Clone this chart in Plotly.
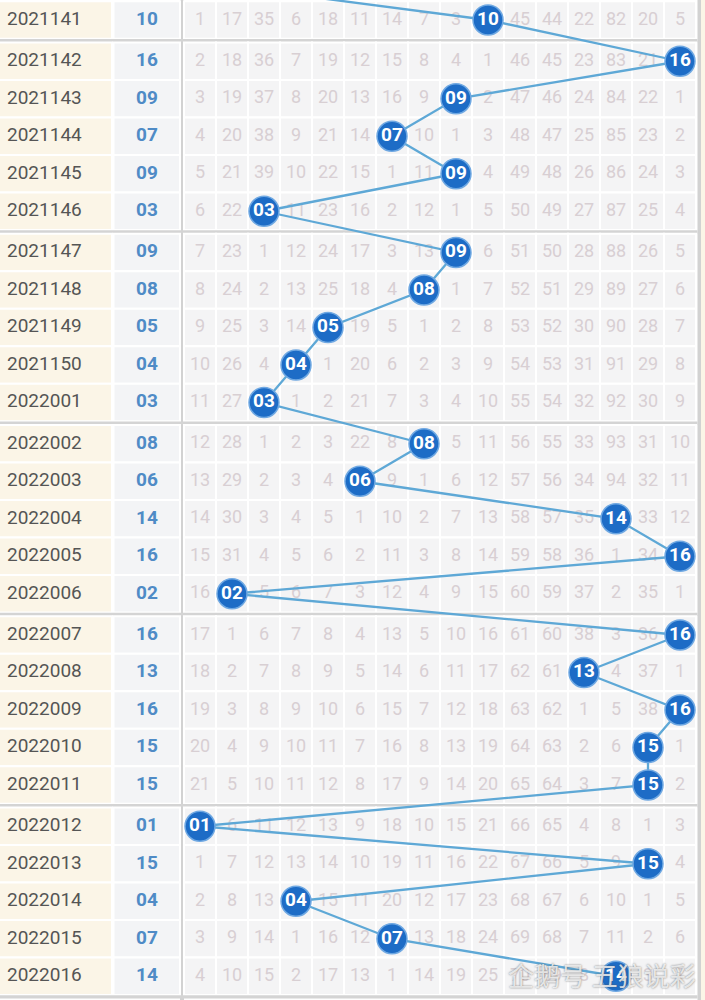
import plotly.graph_objects as go

# ---------------- data ----------------
periods = ["2021141", "2021142", "2021143", "2021144", "2021145", "2021146",
           "2021147", "2021148", "2021149", "2021150", "2022001",
           "2022002", "2022003", "2022004", "2022005", "2022006",
           "2022007", "2022008", "2022009", "2022010", "2022011",
           "2022012", "2022013", "2022014", "2022015", "2022016"]

wins = [10, 16, 9, 7, 9, 3, 9, 8, 5, 4, 3, 8, 6, 14, 16, 2, 16, 13, 16, 15, 15, 1, 15, 4, 7, 14]

prev_win = 1  # winning number of 2021140 (row just above the visible area)

# omission values per row for numbers 01..16 (0 = drawn in that period)
miss = [
    [1, 17, 35, 6, 18, 11, 14, 7, 3, 0, 45, 44, 22, 82, 20, 5],
    [2, 18, 36, 7, 19, 12, 15, 8, 4, 1, 46, 45, 23, 83, 21, 0],
    [3, 19, 37, 8, 20, 13, 16, 9, 0, 2, 47, 46, 24, 84, 22, 1],
    [4, 20, 38, 9, 21, 14, 0, 10, 1, 3, 48, 47, 25, 85, 23, 2],
    [5, 21, 39, 10, 22, 15, 1, 11, 0, 4, 49, 48, 26, 86, 24, 3],
    [6, 22, 0, 11, 23, 16, 2, 12, 1, 5, 50, 49, 27, 87, 25, 4],
    [7, 23, 1, 12, 24, 17, 3, 13, 0, 6, 51, 50, 28, 88, 26, 5],
    [8, 24, 2, 13, 25, 18, 4, 0, 1, 7, 52, 51, 29, 89, 27, 6],
    [9, 25, 3, 14, 0, 19, 5, 1, 2, 8, 53, 52, 30, 90, 28, 7],
    [10, 26, 4, 0, 1, 20, 6, 2, 3, 9, 54, 53, 31, 91, 29, 8],
    [11, 27, 0, 1, 2, 21, 7, 3, 4, 10, 55, 54, 32, 92, 30, 9],
    [12, 28, 1, 2, 3, 22, 8, 0, 5, 11, 56, 55, 33, 93, 31, 10],
    [13, 29, 2, 3, 4, 0, 9, 1, 6, 12, 57, 56, 34, 94, 32, 11],
    [14, 30, 3, 4, 5, 1, 10, 2, 7, 13, 58, 57, 35, 0, 33, 12],
    [15, 31, 4, 5, 6, 2, 11, 3, 8, 14, 59, 58, 36, 1, 34, 0],
    [16, 0, 5, 6, 7, 3, 12, 4, 9, 15, 60, 59, 37, 2, 35, 1],
    [17, 1, 6, 7, 8, 4, 13, 5, 10, 16, 61, 60, 38, 3, 36, 0],
    [18, 2, 7, 8, 9, 5, 14, 6, 11, 17, 62, 61, 0, 4, 37, 1],
    [19, 3, 8, 9, 10, 6, 15, 7, 12, 18, 63, 62, 1, 5, 38, 0],
    [20, 4, 9, 10, 11, 7, 16, 8, 13, 19, 64, 63, 2, 6, 0, 1],
    [21, 5, 10, 11, 12, 8, 17, 9, 14, 20, 65, 64, 3, 7, 0, 2],
    [0, 6, 11, 12, 13, 9, 18, 10, 15, 21, 66, 65, 4, 8, 1, 3],
    [1, 7, 12, 13, 14, 10, 19, 11, 16, 22, 67, 66, 5, 9, 0, 4],
    [2, 8, 13, 0, 15, 11, 20, 12, 17, 23, 68, 67, 6, 10, 1, 5],
    [3, 9, 14, 1, 16, 12, 0, 13, 18, 24, 69, 68, 7, 11, 2, 6],
    [4, 10, 15, 2, 17, 13, 1, 14, 19, 25, 70, 69, 8, 0, 3, 7],
]

numbers = list(range(1, 17))
watermark = "企鹅号 五狼说彩"

# ---------------- layout helpers ----------------
W, H = 705, 1000
PX_COL = 32.0      # px per number column
PX_ROW = 37.5      # px per row
GAP = 0.1          # extra gap between groups of 5 rows (row units)


def xd(p):  # pixel -> x data
    return 1 + (p - 200) / PX_COL


def group(i):
    return (i + 4) // 5


def pos(i):
    return i + GAP * group(i)


ys = [pos(i) for i in range(len(periods))]
y_top = -20 / PX_ROW
y_bot = y_top + H / PX_ROW

shapes = []
BEIGE = "#fbf5e7"
NUMBG = "#f3f4f6"
CELL = "#f4f4f5"
SEP = "#d4d4d4"

# vertical bars
shapes.append(dict(type="rect", xref="x", yref="paper", x0=xd(180), x1=xd(184), y0=0, y1=1,
                   fillcolor="#d2d2d2", line_width=0, layer="below"))
shapes.append(dict(type="rect", xref="x", yref="paper", x0=xd(697.5), x1=xd(701), y0=0, y1=1,
                   fillcolor="#d2d2d2", line_width=0, layer="below"))
shapes.append(dict(type="rect", xref="x", yref="paper", x0=xd(701), x1=xd(706), y0=0, y1=1,
                   fillcolor=BEIGE, line_width=0, layer="below"))

for i, y in enumerate(ys):
    y0, y1 = y - 0.5, y + 0.5
    shapes.append(dict(type="rect", xref="x", yref="y", x0=xd(-2), x1=xd(112), y0=y0, y1=y1,
                       fillcolor=BEIGE, line=dict(color="white", width=2), layer="below"))
    shapes.append(dict(type="rect", xref="x", yref="y", x0=xd(113.5), x1=xd(180), y0=y0, y1=y1,
                       fillcolor=NUMBG, line=dict(color="white", width=2), layer="below"))
    for c in numbers:
        shapes.append(dict(type="rect", xref="x", yref="y", x0=c - 0.5, x1=c + 0.5, y0=y0, y1=y1,
                           fillcolor=CELL, line=dict(color="white", width=2), layer="below"))
    # group separator after the last row of a group
    if i + 1 < len(ys) and group(i + 1) != group(i):
        shapes.append(dict(type="rect", xref="x", yref="y", x0=xd(0), x1=xd(697.5),
                           y0=y1 + 0.005, y1=ys[i + 1] - 0.5 - 0.005,
                           fillcolor=SEP, line_width=0, layer="below"))
# separator at the very bottom
shapes.append(dict(type="rect", xref="x", yref="y", x0=xd(0), x1=xd(697.5),
                   y0=ys[-1] + 0.5 + 0.005, y1=ys[-1] + 0.5 + GAP - 0.005,
                   fillcolor=SEP, line_width=0, layer="below"))

fig = go.Figure()

# period labels
fig.add_trace(go.Scatter(
    x=[xd(7)] * len(periods), y=ys, text=periods, mode="text", textposition="middle right",
    textfont=dict(family="Roboto", size=19, color="#555555"), hoverinfo="skip", showlegend=False))

# winning number column
fig.add_trace(go.Scatter(
    x=[xd(147)] * len(wins), y=ys, text=[f"{w:02d}" for w in wins], mode="text",
    textfont=dict(family="Roboto", size=19, color="#4f8bc6", weight="bold"),
    hoverinfo="skip", showlegend=False))

# omission values
cx, cy, ct = [], [], []
for i, row in enumerate(miss):
    for c, v in zip(numbers, row):
        if c == wins[i]:
            continue
        cx.append(c)
        cy.append(ys[i])
        ct.append(str(v))
fig.add_trace(go.Scatter(
    x=cx, y=cy, text=ct, mode="text",
    textfont=dict(family="Roboto", size=18, color="#d8cfd3"),
    hoverinfo="skip", showlegend=False))

# trend line
fig.add_trace(go.Scatter(
    x=[prev_win] + wins, y=[-1] + ys, mode="lines",
    line=dict(color="#5ea8d6", width=2.3), hoverinfo="skip", showlegend=False))

# balls
fig.add_trace(go.Scatter(
    x=wins, y=ys, mode="markers+text", text=[f"{w:02d}" for w in wins],
    marker=dict(size=30, color="#1d6cc6", line=dict(color="#6fa8e2", width=1.5)),
    textfont=dict(family="Roboto", size=19, color="white", weight="bold"),
    hoverinfo="skip", showlegend=False))

fig.add_annotation(x=xd(602), y=ys[-1] - 0.05, xref="x", yref="y", text=watermark, showarrow=False,
                   font=dict(family="Noto Sans CJK SC", size=26, color="rgba(252,252,252,0.8)",
                             shadow="0px 0px 2px rgba(80,80,80,1)"))

fig.update_layout(
    width=W, height=H, margin=dict(l=0, r=0, t=0, b=0),
    paper_bgcolor="white", plot_bgcolor="white",
    xaxis=dict(range=[xd(0), xd(W)], visible=False, fixedrange=True),
    yaxis=dict(range=[y_bot, y_top], visible=False, fixedrange=True),
    shapes=shapes, showlegend=False,
)

fig.write_html("out.html")
